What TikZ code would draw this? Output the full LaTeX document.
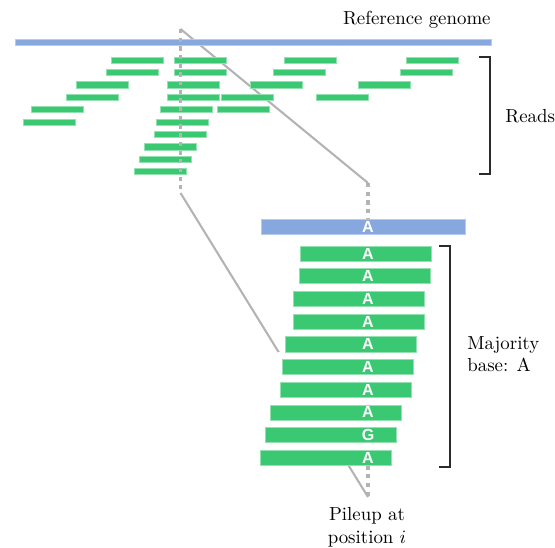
\documentclass[tikz,border=0pt]{standalone}
\usepackage{fontspec}
\newfontfamily\basefont{Liberation Sans}
\usetikzlibrary{positioning}

\definecolor{genomeblue}{HTML}{86A8DF}
\definecolor{readgreen}{HTML}{3AC872}
\definecolor{zoomgray}{HTML}{B3B3B3}
\definecolor{bracketgray}{HTML}{2B2B2B}

\tikzset{
  shortread/.style = {rectangle, fill=readgreen, draw=readgreen!55!white,
    line width=0.3pt, inner sep=0pt, minimum width=27.5pt, minimum height=3.2pt},
  pilebar/.style = {rectangle, fill=readgreen, draw=readgreen!55!white,
    line width=0.3pt, inner sep=0pt, minimum width=69.4pt, minimum height=8pt},
  basechar/.style = {text=white, inner sep=0pt, font=\basefont\bfseries\fontsize{8.5}{9}\selectfont},
  zoomline/.style = {zoomgray, line width=1.1pt},
  zoomdots/.style = {zoomgray, line width=1.8pt, dash pattern=on 2.2pt off 2.4pt},
  bracket/.style = {bracketgray, line width=0.7pt},
  label/.style = {inner sep=0pt}
}

\begin{document}
\begin{tikzpicture}[x=0.53pt, y=-0.53pt]
  \useasboundingbox (0,0) rectangle (555,548);

  % zoom corners
  \coordinate (ztop) at (180.5,29);
  \coordinate (zbot) at (180.5,193);
  \coordinate (ptop) at (368,183);
  \coordinate (pbot) at (368,497);

  \draw[zoomline] (ztop) -- (ptop);
  \draw[zoomline] (zbot) -- (pbot);
  \fill[white] (278,352) rectangle (436,466);

  % reference genome and reads
  \node[rectangle, fill=genomeblue, draw=genomeblue!60!white, line width=0.3pt,
    inner sep=0pt, minimum width=252.3pt, minimum height=3.2pt] (genome) at (253,42) {};
  \node[label, anchor=base east] (genomelabel) at (491,25) {Reference genome};

  \foreach \y/\xs in {60/{111,174,284,406}, 72.4/{106,174,273,400},
      84.8/{76,167,250,358}, 97.2/{66,167,221,316}, 109.6/{31,160,217},
      122/{23,156}, 134.4/{154}, 146.8/{144}, 159.2/{139}, 171.6/{134}}
    \foreach \x in \xs
      \node[shortread] at (\x+26,\y) {};

  \draw[zoomdots] (ztop) -- (zbot);

  \draw[bracket] (479,57) -- (490,57) -- (490,174) -- (479,174);
  \node[label, anchor=base west] (readslabel) at (505,122.5) {Reads};

  % pileup at position i
  \node[rectangle, fill=genomeblue, draw=genomeblue!60!white, line width=0.3pt,
    inner sep=0pt, minimum width=108.1pt, minimum height=8pt] (refbar) at (363,226.5) {};
  \node[basechar] (refbase) at (368,226.5) {A};
  \draw[zoomdots] (ptop) -- (refbar.north -| ptop);

  \foreach \i/\l/\b in {1/300/A, 2/299/A, 3/293/A, 4/293/A, 5/285/A,
      6/282/A, 7/280/A, 8/270/A, 9/265/G, 10/260/A} {
    \node[pilebar, anchor=west] (p\i) at (\l,{253.5+22.7*(\i-1)}) {};
    \node[basechar] (b\i) at (368,{253.5+22.7*(\i-1)}) {\b};
  }
  \draw[zoomdots] (p10.south -| pbot) -- (pbot);

  \draw[bracket] (439,246) -- (450,246) -- (450,467) -- (439,467);
  \node[label, anchor=north west, align=left] (majority) at (467,336) {Majority\\base: A};
  \node[label, anchor=north, align=center] (pileuplabel) at (367,507) {Pileup at\\position $i$};
\end{tikzpicture}
\end{document}
